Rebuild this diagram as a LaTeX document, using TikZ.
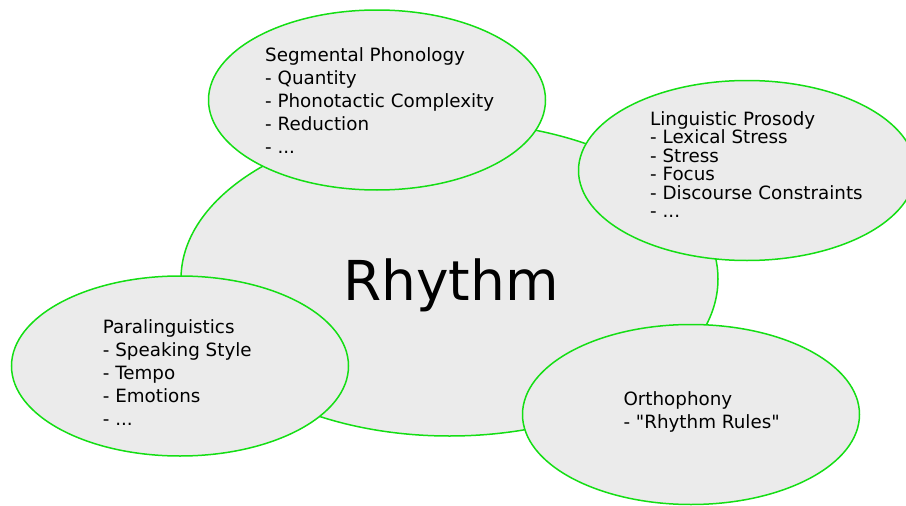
\documentclass[tikz,border=0pt]{standalone}
\usepackage{fontspec}
\setmainfont[Ligatures=TeXOff]{DejaVu Sans}
\usetikzlibrary{shapes.geometric}
\definecolor{bubblefill}{HTML}{EBEBEB}
\definecolor{bubbleline}{RGB}{20,222,20}
\tikzset{
  bubble/.style={ellipse, draw=bubbleline, fill=bubblefill, line width=1.5pt, inner sep=0pt},
  smallbubble/.style={bubble, minimum width=337pt, minimum height=180pt},
  topic/.style={anchor=base west, align=left, inner sep=0pt, font=\fontsize{18.3}{23}\selectfont},
}
\begin{document}
\begin{tikzpicture}[x=1pt,y=-1pt]
\useasboundingbox (0,0) rectangle (906,506);
\node[bubble, minimum width=537pt, minimum height=314pt] (rhythm) at (449.5,279) {};
\node[anchor=base, inner sep=0pt, font=\fontsize{55}{60}\selectfont] (rhythmtext) at (451,300) {Rhythm};
\node[smallbubble] (seg) at (377,100) {};
\node[smallbubble] (pros) at (747,170.5) {};
\node[smallbubble] (para) at (180,366) {};
\node[smallbubble] (orth) at (691,414.5) {};
\node[topic] (segtext) at (265,153.5) {Segmental Phonology\\- Quantity\\- Phonotactic Complexity\\- Reduction\\- ...};
\node[topic, font=\fontsize{18.3}{18.5}\selectfont] (prostext) at (650,217.7) {Linguistic Prosody\\- Lexical Stress\\- Stress\\- Focus\\- Discourse Constraints\\- ...};
\node[topic] (paratext) at (102.7,425) {Paralinguistics\\- Speaking Style\\- Tempo\\- Emotions\\- ...};
\node[topic] (orthtext) at (623.3,428.3) {Orthophony\\- "Rhythm Rules"};
\end{tikzpicture}
\end{document}
